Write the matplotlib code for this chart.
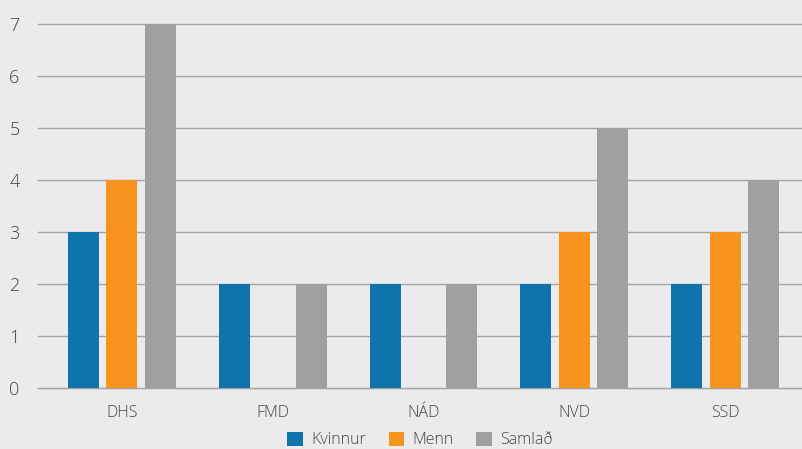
import matplotlib
matplotlib.use("Agg")
import matplotlib.pyplot as plt
import numpy as np

categories = ["DHS", "FMD", "NÁD", "NVD", "SSD"]
series_names = ["Kvinnur", "Menn", "Samlað"]
kvinnur = [3, 2, 2, 2, 2]
menn = [4, 0, 0, 3, 3]
samlad = [7, 2, 2, 5, 4]
colors = ["#0f73ae", "#f7941d", "#a0a0a3"]
yticks = [0, 1, 2, 3, 4, 5, 6, 7]

plt.rcParams['font.family'] = ['Open Sans', 'DejaVu Sans']
bg = "#ebebee"
fig = plt.figure(figsize=(8.03, 4.49), dpi=100, facecolor=bg)
ax = fig.add_axes([38/803, 1-388/449, 1-38/803, (388-24)/449])
ax.set_facecolor(bg)

x = np.arange(len(categories))
w = 31/151
off = 38.5/151
for i, (vals, name) in enumerate(zip([kvinnur, menn, samlad], series_names)):
    ax.bar(x + (i-1)*off, vals, width=w, color=colors[i], label=name, zorder=3)

ax.set_xlim(-84/151, len(categories)-1 + (803-725)/151)
ax.set_ylim(0, 7)
ax.set_yticks(yticks)
ax.set_xticks(x)
ax.set_xticklabels(categories)
ax.yaxis.grid(True, color="#a3a3a5", linewidth=1, zorder=0)
for l in ax.get_ygridlines():
    l.set_clip_on(False)
for s in ["top", "right", "left"]:
    ax.spines[s].set_visible(False)
ax.spines["bottom"].set_color("#a3a3a5")
ax.tick_params(axis="both", length=0, colors="#444444")
ax.tick_params(axis="x", pad=12)
ax.tick_params(axis="y", pad=17)
for t in ax.get_xticklabels():
    t.set_fontweight("light")
    t.set_fontsize(11.5)
for t in ax.get_yticklabels():
    t.set_fontweight("light")
    t.set_fontsize(13)
    t.set_horizontalalignment("center")
    t.set_verticalalignment("center_baseline")

leg = fig.legend(loc="center", bbox_to_anchor=(420/803, 1-440/449), ncol=3, frameon=False,
                 handlelength=1.0, handleheight=1.0, handletextpad=0.5, columnspacing=1.4,
                 prop={"size": 11.5, "weight": "light"})
for t in leg.get_texts():
    t.set_color("#444444")

fig.savefig("out.png", dpi=100, facecolor=bg)
